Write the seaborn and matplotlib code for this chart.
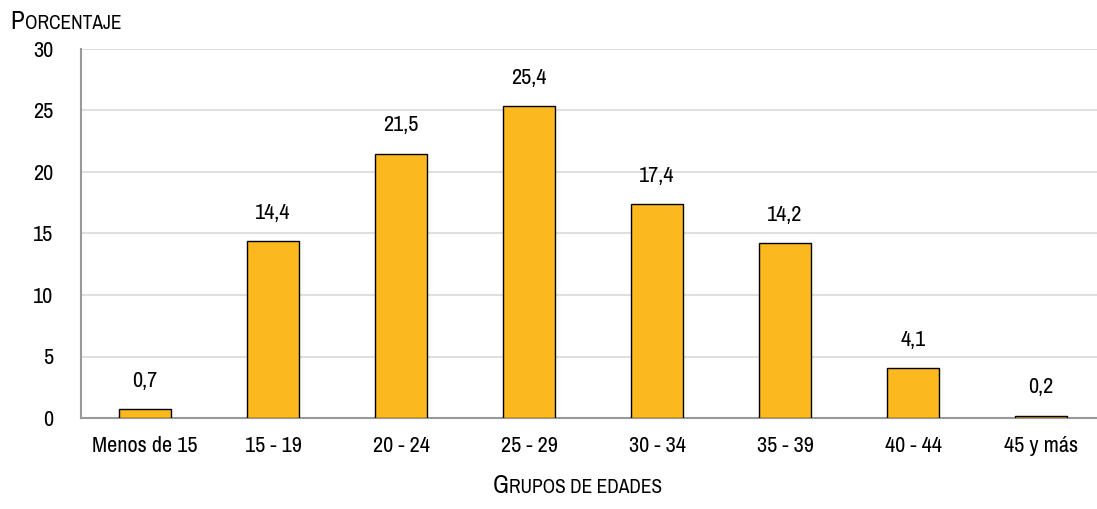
import numpy as np
import pandas as pd
import matplotlib
matplotlib.use("Agg")
import matplotlib.pyplot as plt
from matplotlib import font_manager
import seaborn as sns

# data
grupos = ["Menos de 15", "15 - 19", "20 - 24", "25 - 29", "30 - 34", "35 - 39", "40 - 44", "45 y más"]
porcentaje = [0.7, 14.4, 21.5, 25.4, 17.4, 14.2, 4.1, 0.2]
etiquetas = ["0,7", "14,4", "21,5", "25,4", "17,4", "14,2", "4,1", "0,2"]
y_ticks = [0, 5, 10, 15, 20, 25, 30]

sns.set_style("white")
names = sorted({f.name for f in font_manager.fontManager.ttflist})
narrow = [n for n in names if "Narrow" in n or "Condensed" in n]
plt.rcParams["font.family"] = narrow + ["DejaVu Sans"]
plt.rcParams["font.stretch"] = "condensed"
plt.rcParams["text.color"] = "black"

W, H = 1097, 509
fig = plt.figure(figsize=(W / 100, H / 100), dpi=100)
# axes spans x 81..1105 px, y 49..418 px
ax = fig.add_axes([81 / W, 1 - 418 / H, (1105 - 81) / W, (418 - 49) / H])

df = pd.DataFrame({"grupo": grupos, "pct": porcentaje})
sns.barplot(data=df, x="grupo", y="pct", ax=ax, color="#FBB81F", saturation=1,
            width=0.4, edgecolor="black", linewidth=1, zorder=3)

ax.set_ylim(0, 30)
ax.set_xlim(-0.5, len(grupos) - 0.5)
ax.set_yticks(y_ticks)
ax.set_yticklabels([str(t) for t in y_ticks], fontsize=16, color="black")
ax.yaxis.grid(True, color="#d9d9d9", linewidth=1.2, zorder=0)
ax.set_axisbelow(True)

# category boundary ticks on x axis
ax.set_xticks(range(len(grupos)))
ax.set_xticklabels(grupos, fontsize=16, color="black")
ax.tick_params(axis="x", length=0, pad=13)
ax.set_xticks(np.arange(-0.5, len(grupos), 1), minor=True)
ax.tick_params(axis="x", which="minor", length=10, direction="inout", color="#999999", width=1.5)
ax.tick_params(axis="y", length=6, color="#999999", width=1.5, pad=14)

for s in ["top", "right"]:
    ax.spines[s].set_visible(False)
for s in ["left", "bottom"]:
    ax.spines[s].set_color("#999999")
    ax.spines[s].set_linewidth(1.5)

ax.set_xlabel("")
ax.set_ylabel("")

for i, (v, t) in enumerate(zip(porcentaje, etiquetas)):
    ax.annotate(t, (i, v), xytext=(0, 13), textcoords="offset points",
                ha="center", va="bottom", fontsize=16)


def small_caps(x, y, text, big, small, ha="left"):
    # first letter large, rest uppercase smaller
    fig.canvas.draw()
    r = fig.canvas.get_renderer()
    t1 = fig.text(0, 0, text[0], fontsize=big, va="baseline")
    t2 = fig.text(0, 0, text[1:].upper(), fontsize=small, va="baseline")
    w1 = t1.get_window_extent(r).width
    w2 = t2.get_window_extent(r).width
    x0 = x if ha == "left" else x - (w1 + w2) / 2
    t1.set_position((x0 / W, 1 - y / H))
    t2.set_position(((x0 + w1 + 1) / W, 1 - y / H))


small_caps(10, 29, "Porcentaje", 18, 14)
small_caps(577, 493, "Grupos de edades", 18, 14, ha="center")

fig.savefig("out.png", dpi=100)
